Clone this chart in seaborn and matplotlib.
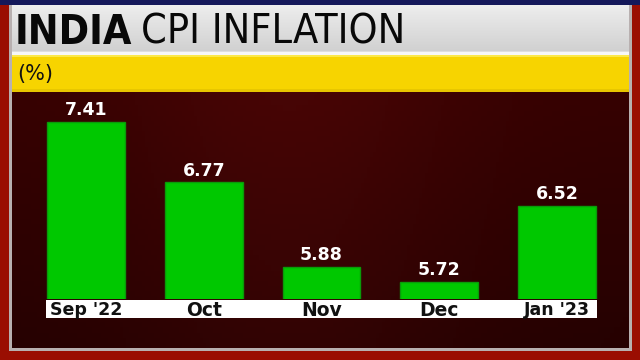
import numpy as np
import pandas as pd
import matplotlib
matplotlib.use("Agg")
import matplotlib.pyplot as plt
from matplotlib.patches import Rectangle
import seaborn as sns

categories = ["Sep '22", "Oct", "Nov", "Dec", "Jan '23"]
values = [7.41, 6.77, 5.88, 5.72, 6.52]
value_labels = ["7.41", "6.77", "5.88", "5.72", "6.52"]

sns.set_theme(style="white")
plt.rcParams['font.family'] = ['DejaVu Sans']

W, H = 640, 360
fig = plt.figure(figsize=(6.4, 3.6), dpi=100)

bg = fig.add_axes([0, 0, 1, 1])
bg.set_xlim(0, W)
bg.set_ylim(H, 0)
bg.axis('off')

def rect(x0, y0, x1, y1, color, z=1):
    bg.add_patch(Rectangle((x0, y0), x1 - x0, y1 - y0, facecolor=color, edgecolor='none', zorder=z))

rect(0, 0, W, H, '#9a0e02', 0)
rect(9, 5, 632, 351, '#b8b0b0', 1)
grad = np.linspace(0, 1, 200)
panel = np.zeros((50, 200, 3))
cx = np.exp(-((grad - 0.45) ** 2) / 0.08)
for i in range(50):
    vy = 1 - i / 49 * 0.3
    panel[i, :, 0] = (0.21 + 0.07 * cx) * vy
    panel[i, :, 1] = (0.005 + 0.015 * cx) * vy
    panel[i, :, 2] = (0.005 + 0.015 * cx) * vy
bg.imshow(panel, extent=(12, 629, 348, 90), aspect='auto', zorder=2)
rect(0, 0, W, 5, '#14185a', 3)
tb = np.zeros((30, 2, 3))
for i in range(30):
    t = i / 29
    tb[i, :, :] = 0.93 - 0.12 * t
tb[-2:, :, :] = 0.97
bg.imshow(tb, extent=(12, 629, 55, 5), aspect='auto', zorder=3)
rect(12, 55, 629, 92, '#f7d400', 4)
rect(12, 55, 629, 57, '#fbe84a', 5)
rect(12, 89, 629, 92, '#e8c600', 5)
rect(46, 300, 597, 318, '#ffffff', 5)

title_font = dict(family=['DejaVu Sans'], fontstretch='condensed')
t1 = bg.text(15, 33, "INDIA", fontweight='bold', fontsize=29.5, color='#080808',
             va='center', ha='left', zorder=6, **title_font)
fig.canvas.draw()
r = fig.canvas.get_renderer()
bb = t1.get_window_extent(r)
bg.text(bb.x1 + 9, 33, "CPI INFLATION", fontsize=29.5, color='#080808',
        va='center', ha='left', zorder=6, **title_font)
bg.text(17, 74, "(%)", fontsize=15, color='#111111', va='center', ha='left', zorder=6)

left_px, right_px = 27, 616
bottom_px, top_px = 299, 95
ax = fig.add_axes([left_px / W, (H - bottom_px) / H, (right_px - left_px) / W, (bottom_px - top_px) / H])
ax.patch.set_alpha(0)
df = pd.DataFrame({"month": categories, "cpi": values})
sns.barplot(data=df, x="month", y="cpi", color='#00c800', edgecolor='#0a9a0a', linewidth=1,
            width=0.66, saturation=1, ax=ax)
ax.set_ylim(5.54, 7.69)
ax.set_xlim(-0.5, 4.5)
ax.bar_label(ax.containers[0], labels=value_labels, padding=2, color='white', fontsize=12.5,
             fontweight='bold')
for s in ax.spines.values():
    s.set_visible(False)
ax.set_yticks([])
ax.set_xlabel("")
ax.set_ylabel("")
ax.tick_params(axis='x', length=0, pad=1.5)
for lab in ax.get_xticklabels():
    lab.set_fontsize(12.5 if len(lab.get_text()) > 4 else 13.5)
    lab.set_fontweight('bold')
    lab.set_color('#111111')

fig.savefig("out.png", dpi=100)
